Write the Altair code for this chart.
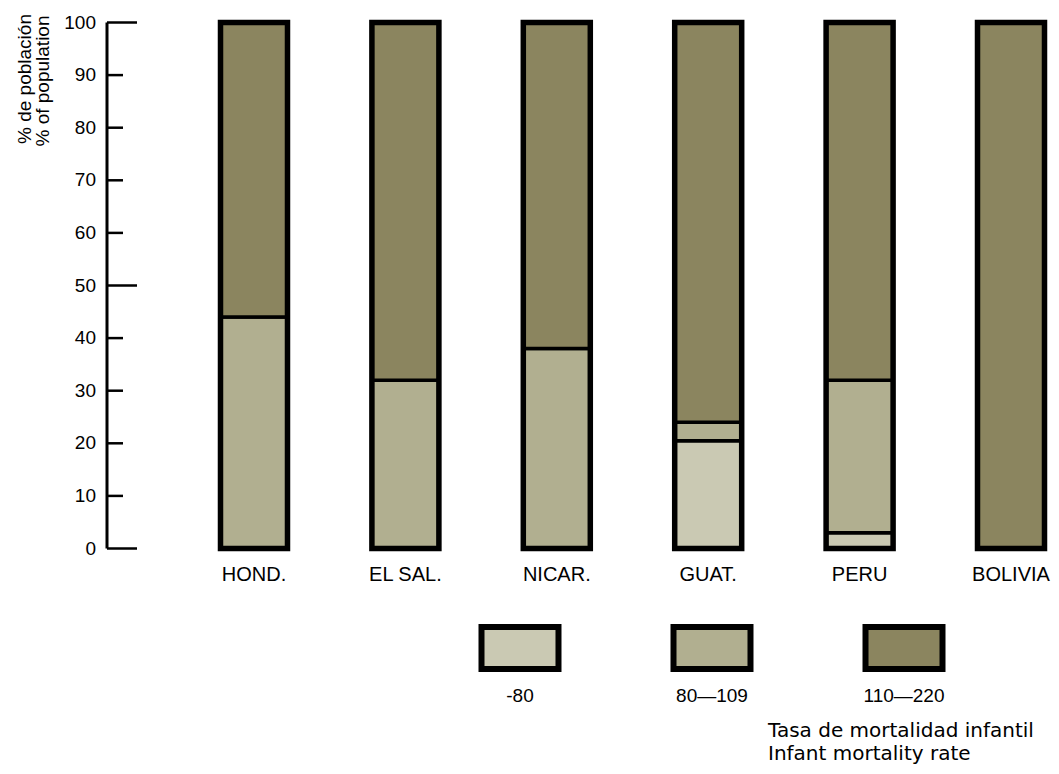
import altair as alt
import pandas as pd

# ---------------- data ----------------
countries = ["HOND.", "EL SAL.", "NICAR.", "GUAT.", "PERU", "BOLIVIA"]
low_80 = [0, 0, 0, 20.5, 3, 0]            # infant mortality rate -80
mid_80_109 = [44, 32, 38, 3.5, 29, 0]     # 80-109
high_110_220 = [56, 68, 62, 76, 68, 100]  # 110-220
rate_labels = ["-80", "80—109", "110—220"]
y_ticks = [0, 10, 20, 30, 40, 50, 60, 70, 80, 90, 100]
long_ticks = [0, 50, 100]
axis_title = ["% de población", "% of population"]
legend_title = ["Tasa de mortalidad infantil", "Infant mortality rate"]

# ---------------- styles ----------------
rate_colors = ["#cac9b3", "#b1af90", "#8b855f"]
FONT = "Liberation Sans"
W, H = 1043, 758

rows = []
for i, c in enumerate(countries):
    start = 0
    for lab, vals in zip(rate_labels, [low_80, mid_80_109, high_110_220]):
        v = vals[i]
        if v > 0:
            rows.append({"country": c, "rate": lab, "y0": start, "y1": start + v})
            start += v
seg_df = pd.DataFrame(rows)
tick_df = pd.DataFrame({"value": y_ticks, "long": [v in long_ticks for v in y_ticks]})
country_df = pd.DataFrame({"country": countries})
legend_df = pd.DataFrame({"rate": rate_labels})

xs = alt.Scale(domain=countries, range=[212.5, 1036.5], paddingInner=0.5575, paddingOuter=0)
ys = alt.Scale(domain=[0, 100], range=[540.5, 14.5], nice=False, zero=False)
lxs = alt.Scale(domain=rate_labels, range=[473.5, 934.5], paddingInner=0.599, paddingOuter=0)
col = alt.Color("rate:N", scale=alt.Scale(domain=rate_labels, range=rate_colors), legend=None)

X = alt.X("country:N", scale=xs, axis=None, sort=countries)

segments = alt.Chart(seg_df).mark_bar(stroke="black", strokeWidth=3.5).encode(
    x=X, y=alt.Y("y0:Q", scale=ys, axis=None), y2="y1:Q", color=col
)
outline = alt.Chart(seg_df).mark_bar(fillOpacity=0, stroke="black", strokeWidth=5.5).encode(
    x=X, y=alt.Y("min(y0):Q", scale=ys, axis=None), y2="max(y1):Q"
)
country_labels = alt.Chart(country_df).mark_text(
    font=FONT, fontSize=20, baseline="middle", align="center", color="black"
).encode(x=X, y=alt.value(567), text="country:N")

axis_line = alt.Chart(tick_df).mark_rule(color="black", strokeWidth=3).encode(
    y=alt.Y("min(value):Q", scale=ys, axis=None), y2="max(value):Q", x=alt.value(99)
)
ticks_short = alt.Chart(tick_df).transform_filter("!datum.long").mark_rule(
    color="black", strokeWidth=2.5
).encode(y=alt.Y("value:Q", scale=ys, axis=None), x=alt.value(99), x2=alt.value(115))
ticks_long = alt.Chart(tick_df).transform_filter("datum.long").mark_rule(
    color="black", strokeWidth=2.5
).encode(y=alt.Y("value:Q", scale=ys, axis=None), x=alt.value(99), x2=alt.value(129))
tick_labels = alt.Chart(tick_df).mark_text(
    font=FONT, fontSize=19, align="right", baseline="middle", color="black"
).encode(y=alt.Y("value:Q", scale=ys, axis=None), x=alt.value(88), text="value:Q")

title1 = alt.Chart(pd.DataFrame({"t": [axis_title[0]]})).mark_text(
    font=FONT, fontSize=19, angle=270, align="center", baseline="middle", color="black"
).encode(x=alt.value(17), y=alt.value(71), text="t:N")
title2 = alt.Chart(pd.DataFrame({"t": [axis_title[1]]})).mark_text(
    font=FONT, fontSize=19, angle=270, align="center", baseline="middle", color="black"
).encode(x=alt.value(35), y=alt.value(73), text="t:N")

LX = alt.X("rate:N", scale=lxs, axis=None, sort=rate_labels)
legend_boxes = alt.Chart(legend_df).mark_bar(stroke="black", strokeWidth=6).encode(
    x=LX, y=alt.value(619), y2=alt.value(661), color=col
)
legend_labels = alt.Chart(legend_df).mark_text(
    font=FONT, fontSize=19, align="center", baseline="middle", color="black"
).encode(x=LX, y=alt.value(688), text="rate:N")
ltitle1 = alt.Chart(pd.DataFrame({"t": [legend_title[0]]})).mark_text(
    font="DejaVu Sans", fontSize=20, align="left", baseline="middle", color="black"
).encode(x=alt.value(760), y=alt.value(723), text="t:N")
ltitle2 = alt.Chart(pd.DataFrame({"t": [legend_title[1]]})).mark_text(
    font="DejaVu Sans", fontSize=20, align="left", baseline="middle", color="black"
).encode(x=alt.value(760), y=alt.value(746), text="t:N")

bars_group = alt.layer(segments, outline, country_labels, axis_line, ticks_short,
                       ticks_long, tick_labels, title1, title2)
legend_group = alt.layer(legend_boxes, legend_labels, ltitle1, ltitle2)

chart = alt.layer(bars_group, legend_group).resolve_scale(x="independent").properties(
    width=W, height=H, autosize=alt.AutoSizeParams(type="none"), padding=0,
    background="white"
).configure_view(stroke=None)

chart.save("out.html", embed_options={"renderer": "svg", "actions": False})
